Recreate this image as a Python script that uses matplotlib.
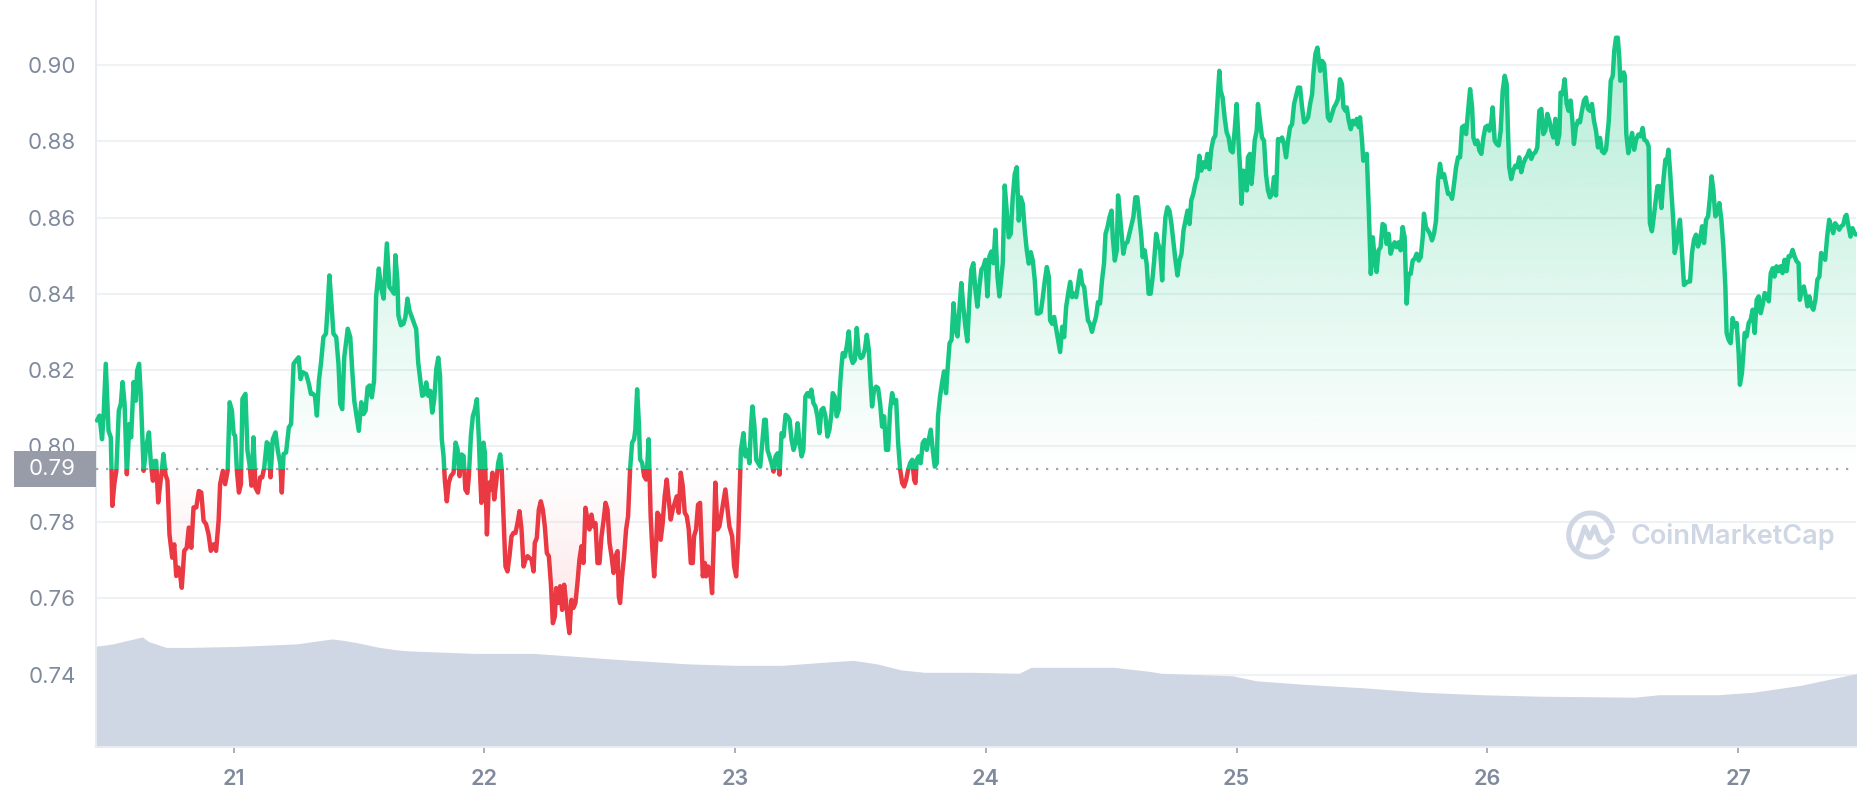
import numpy as np
import matplotlib
matplotlib.use('Agg')
import matplotlib.pyplot as plt
from matplotlib.colors import to_rgb
from matplotlib.patches import Rectangle, Arc
from matplotlib.path import Path
from matplotlib.lines import Line2D
from matplotlib.transforms import blended_transform_factory

plt.rcParams['font.family'] = ['Inter', 'DejaVu Sans']

# price (USD), (day of month, price)
seg_a = [(20.455, 0.8067), (20.465, 0.8080), (20.475, 0.8018), (20.481, 0.8075), (20.490, 0.8216), (20.501, 0.8040),
         (20.510, 0.8023), (20.516, 0.7843), (20.524, 0.7900), (20.532, 0.7935), (20.542, 0.8093), (20.550, 0.8111),
         (20.557, 0.8168), (20.565, 0.8111), (20.574, 0.7926), (20.584, 0.8058), (20.591, 0.8023), (20.601, 0.8168),
         (20.610, 0.8119), (20.615, 0.8198), (20.623, 0.8216), (20.630, 0.8128), (20.641, 0.7935), (20.651, 0.7997),
         (20.662, 0.8036), (20.670, 0.7953), (20.678, 0.7909), (20.685, 0.7961), (20.691, 0.7961), (20.699, 0.7852),
         (20.707, 0.7900), (20.712, 0.7926), (20.720, 0.7979), (20.728, 0.7926), (20.736, 0.7909), (20.744, 0.7768),
         (20.755, 0.7707), (20.763, 0.7742), (20.771, 0.7659), (20.780, 0.7681), (20.787, 0.7659), (20.793, 0.7628),
         (20.803, 0.7725), (20.813, 0.7733), (20.821, 0.7786), (20.831, 0.7733), (20.840, 0.7839), (20.851, 0.7839),
         (20.861, 0.7882), (20.871, 0.7878), (20.880, 0.7804), (20.890, 0.7795), (20.900, 0.7768), (20.909, 0.7725),
         (20.920, 0.7742), (20.930, 0.7725), (20.940, 0.7804), (20.946, 0.7900), (20.957, 0.7935), (20.966, 0.7900),
         (20.976, 0.7935), (20.984, 0.8115), (20.993, 0.8093), (21.000, 0.8032), (21.006, 0.8027), (21.013, 0.7935),
         (21.021, 0.7878), (21.029, 0.7900), (21.035, 0.8124), (21.047, 0.8137), (21.055, 0.7988), (21.063, 0.7953),
         (21.071, 0.7896), (21.079, 0.8023), (21.087, 0.7891), (21.097, 0.7878), (21.106, 0.7918), (21.114, 0.7918),
         (21.122, 0.7944), (21.132, 0.8010), (21.139, 0.8005), (21.147, 0.7918), (21.156, 0.8018), (21.167, 0.8036),
         (21.176, 0.7988), (21.186, 0.7953), (21.192, 0.7878), (21.199, 0.7979), (21.209, 0.7983), (21.220, 0.8049),
         (21.229, 0.8058), (21.239, 0.8216), (21.249, 0.8225), (21.259, 0.8233), (21.267, 0.8176), (21.275, 0.8194),
         (21.289, 0.8189), (21.300, 0.8163), (21.308, 0.8137), (21.316, 0.8137), (21.324, 0.8132), (21.332, 0.8080),
         (21.340, 0.8172), (21.348, 0.8216), (21.358, 0.8286), (21.368, 0.8295), (21.374, 0.8356), (21.382, 0.8448),
         (21.390, 0.8374), (21.398, 0.8295), (21.409, 0.8286), (21.418, 0.8216), (21.425, 0.8111), (21.433, 0.8097),
         (21.441, 0.8233), (21.449, 0.8277), (21.455, 0.8308), (21.465, 0.8286), (21.473, 0.8198), (21.481, 0.8119),
         (21.491, 0.8075), (21.499, 0.8040), (21.509, 0.8115), (21.518, 0.8084), (21.526, 0.8093), (21.534, 0.8154),
         (21.542, 0.8159), (21.551, 0.8128), (21.560, 0.8172), (21.568, 0.8391), (21.579, 0.8466), (21.587, 0.8418),
         (21.598, 0.8387), (21.606, 0.8479), (21.611, 0.8532), (21.621, 0.8418), (21.631, 0.8409), (21.640, 0.8400),
         (21.645, 0.8501), (21.653, 0.8435), (21.657, 0.8343), (21.667, 0.8317), (21.677, 0.8321), (21.685, 0.8339),
         (21.693, 0.8387), (21.701, 0.8356)]

seg_b = [(21.728, 0.8307), (21.736, 0.8219), (21.744, 0.8175), (21.752, 0.8132), (21.760, 0.8136), (21.768, 0.8167),
         (21.776, 0.8132), (21.784, 0.8145), (21.792, 0.8088), (21.800, 0.8123), (21.808, 0.8202), (21.816, 0.8232),
         (21.823, 0.8184), (21.830, 0.8018), (21.837, 0.7974), (21.842, 0.7912), (21.850, 0.7855), (21.858, 0.7904),
         (21.866, 0.7921), (21.877, 0.7930), (21.885, 0.8009), (21.893, 0.7991), (21.901, 0.7921), (21.909, 0.7978),
         (21.917, 0.7974), (21.924, 0.7886), (21.932, 0.7877), (21.938, 0.7921), (21.946, 0.8026), (21.954, 0.8079),
         (21.962, 0.8096), (21.970, 0.8123), (21.978, 0.8018), (21.983, 0.7921), (21.988, 0.7851), (21.996, 0.8009),
         (22.002, 0.7982), (22.010, 0.7768), (22.018, 0.7904), (22.025, 0.7886), (22.032, 0.7930), (22.039, 0.7860),
         (22.047, 0.7904), (22.055, 0.7956), (22.063, 0.7978), (22.069, 0.7939), (22.076, 0.7816), (22.084, 0.7684),
         (22.092, 0.7671), (22.100, 0.7711), (22.108, 0.7763), (22.116, 0.7772), (22.124, 0.7772), (22.132, 0.7798),
         (22.140, 0.7829), (22.148, 0.7781), (22.156, 0.7684), (22.164, 0.7702), (22.172, 0.7711), (22.180, 0.7706),
         (22.188, 0.7702), (22.196, 0.7671), (22.201, 0.7746), (22.209, 0.7759), (22.217, 0.7833), (22.225, 0.7855),
         (22.233, 0.7833), (22.241, 0.7789), (22.249, 0.7719), (22.257, 0.7711), (22.265, 0.7640), (22.273, 0.7535),
         (22.281, 0.7553), (22.286, 0.7627), (22.294, 0.7588), (22.302, 0.7632), (22.310, 0.7570), (22.318, 0.7636),
         (22.326, 0.7588), (22.334, 0.7535), (22.339, 0.7509), (22.347, 0.7596), (22.355, 0.7575), (22.363, 0.7588),
         (22.371, 0.7640), (22.379, 0.7702), (22.387, 0.7737), (22.395, 0.7693), (22.403, 0.7838), (22.411, 0.7807),
         (22.419, 0.7781), (22.427, 0.7820), (22.435, 0.7789), (22.443, 0.7798), (22.451, 0.7693), (22.459, 0.7693),
         (22.467, 0.7763), (22.475, 0.7803), (22.483, 0.7851), (22.491, 0.7833), (22.499, 0.7746), (22.507, 0.7711),
         (22.515, 0.7667), (22.523, 0.7711), (22.531, 0.7724), (22.536, 0.7605), (22.541, 0.7588), (22.549, 0.7658),
         (22.557, 0.7711), (22.565, 0.7781), (22.573, 0.7816), (22.581, 0.7939), (22.589, 0.8009), (22.597, 0.8018),
         (22.602, 0.8044), (22.609, 0.8149), (22.616, 0.8061), (22.621, 0.7965), (22.629, 0.7956), (22.637, 0.7921),
         (22.645, 0.7912), (22.650, 0.7956), (22.655, 0.8018), (22.658, 0.7939), (22.663, 0.7816), (22.669, 0.7737),
         (22.677, 0.7658), (22.685, 0.7746), (22.690, 0.7825), (22.698, 0.7816), (22.703, 0.7754), (22.711, 0.7798),
         (22.719, 0.7868), (22.727, 0.7912), (22.735, 0.7860), (22.743, 0.7807), (22.751, 0.7833), (22.759, 0.7851),
         (22.767, 0.7868), (22.775, 0.7825), (22.783, 0.7930), (22.791, 0.7895), (22.799, 0.7825), (22.807, 0.7816),
         (22.815, 0.7781), (22.823, 0.7693), (22.831, 0.7693), (22.836, 0.7763), (22.844, 0.7781), (22.852, 0.7846),
         (22.860, 0.7851), (22.865, 0.7763), (22.871, 0.7658), (22.879, 0.7693), (22.884, 0.7658), (22.892, 0.7684),
         (22.900, 0.7675), (22.908, 0.7614), (22.916, 0.7781), (22.921, 0.7904), (22.929, 0.7781), (22.937, 0.7789)]

seg_c = [(22.961, 0.7886), (22.977, 0.7789), (22.988, 0.7763), (22.996, 0.7684), (23.004, 0.7658), (23.012, 0.7754)]

seg_d = [(23.023, 0.7990), (23.033, 0.8034), (23.041, 0.7973), (23.049, 0.7990), (23.057, 0.7955), (23.063, 0.8051),
         (23.069, 0.8104), (23.077, 0.8051), (23.084, 0.7964), (23.092, 0.7955), (23.100, 0.7946), (23.108, 0.8008),
         (23.116, 0.8069), (23.122, 0.8069), (23.129, 0.7990), (23.137, 0.7973), (23.145, 0.7955), (23.153, 0.7933),
         (23.161, 0.7973), (23.169, 0.7981), (23.177, 0.7925), (23.185, 0.8034), (23.193, 0.8025), (23.201, 0.8082),
         (23.209, 0.8078), (23.217, 0.8069), (23.225, 0.8016), (23.233, 0.7990), (23.241, 0.8008), (23.249, 0.8060),
         (23.257, 0.8008), (23.265, 0.7973), (23.272, 0.7990), (23.280, 0.8130), (23.288, 0.8139), (23.296, 0.8130),
         (23.304, 0.8148), (23.312, 0.8113), (23.320, 0.8104), (23.328, 0.8078), (23.336, 0.8034), (23.344, 0.8095),
         (23.352, 0.8100), (23.360, 0.8078), (23.368, 0.8025), (23.376, 0.8043), (23.384, 0.8086), (23.389, 0.8139),
         (23.397, 0.8130), (23.405, 0.8078), (23.413, 0.8095), (23.419, 0.8165), (23.424, 0.8209), (23.429, 0.8244),
         (23.437, 0.8235), (23.445, 0.8261), (23.453, 0.8301), (23.461, 0.8235), (23.469, 0.8218), (23.477, 0.8226),
         (23.485, 0.8310), (23.493, 0.8244), (23.501, 0.8231), (23.509, 0.8235), (23.517, 0.8253), (23.525, 0.8292),
         (23.533, 0.8253), (23.541, 0.8156), (23.546, 0.8104), (23.554, 0.8148), (23.562, 0.8156), (23.570, 0.8152),
         (23.578, 0.8113), (23.586, 0.8051), (23.594, 0.8078), (23.602, 0.7990), (23.610, 0.7990), (23.618, 0.8095),
         (23.626, 0.8139), (23.634, 0.8113), (23.642, 0.8121), (23.650, 0.8008), (23.658, 0.7938), (23.666, 0.7903),
         (23.674, 0.7894), (23.682, 0.7911), (23.690, 0.7938), (23.698, 0.7955), (23.706, 0.7964), (23.714, 0.7911),
         (23.719, 0.7903), (23.724, 0.7964), (23.732, 0.7973), (23.740, 0.7955), (23.748, 0.8008), (23.756, 0.8016),
         (23.764, 0.7990), (23.772, 0.8016), (23.780, 0.8043), (23.788, 0.7990), (23.796, 0.7946), (23.804, 0.7955),
         (23.809, 0.8078), (23.817, 0.8130), (23.825, 0.8165), (23.833, 0.8196), (23.841, 0.8139), (23.847, 0.8200),
         (23.855, 0.8270), (23.863, 0.8279), (23.871, 0.8375), (23.879, 0.8305), (23.887, 0.8288), (23.894, 0.8358),
         (23.902, 0.8428), (23.910, 0.8366), (23.918, 0.8314), (23.926, 0.8275), (23.934, 0.8384), (23.942, 0.8463),
         (23.950, 0.8480), (23.958, 0.8410), (23.966, 0.8366), (23.974, 0.8419), (23.982, 0.8463), (23.990, 0.8471),
         (23.998, 0.8489), (24.006, 0.8393), (24.014, 0.8498), (24.022, 0.8511), (24.030, 0.8480), (24.038, 0.8568),
         (24.046, 0.8445), (24.054, 0.8393)]

seg_e = [(24.067, 0.8479), (24.075, 0.8684), (24.083, 0.8618), (24.091, 0.8548), (24.099, 0.8557), (24.107, 0.8653),
         (24.115, 0.8714), (24.123, 0.8732), (24.131, 0.8592), (24.139, 0.8653), (24.147, 0.8636), (24.155, 0.8566),
         (24.163, 0.8514), (24.171, 0.8479), (24.179, 0.8509), (24.187, 0.8487), (24.195, 0.8435), (24.203, 0.8348),
         (24.211, 0.8348), (24.219, 0.8352), (24.227, 0.8391), (24.235, 0.8435), (24.243, 0.8470), (24.251, 0.8444),
         (24.256, 0.8330), (24.264, 0.8321), (24.272, 0.8339), (24.280, 0.8308), (24.288, 0.8278), (24.296, 0.8247),
         (24.304, 0.8313), (24.312, 0.8286), (24.320, 0.8365), (24.328, 0.8400), (24.336, 0.8431), (24.344, 0.8391),
         (24.352, 0.8400), (24.360, 0.8391), (24.368, 0.8426), (24.376, 0.8461), (24.384, 0.8426), (24.392, 0.8417),
         (24.399, 0.8374), (24.407, 0.8330), (24.415, 0.8321), (24.423, 0.8300), (24.431, 0.8321), (24.439, 0.8339),
         (24.447, 0.8378), (24.455, 0.8374), (24.463, 0.8435), (24.471, 0.8479), (24.477, 0.8557), (24.485, 0.8575),
         (24.493, 0.8601), (24.501, 0.8618), (24.506, 0.8548), (24.514, 0.8487), (24.522, 0.8514), (24.527, 0.8658),
         (24.532, 0.8627), (24.540, 0.8566), (24.548, 0.8505), (24.556, 0.8531), (24.564, 0.8535), (24.572, 0.8557),
         (24.580, 0.8579), (24.588, 0.8601), (24.596, 0.8653), (24.604, 0.8653), (24.612, 0.8601), (24.620, 0.8548),
         (24.625, 0.8496), (24.633, 0.8514), (24.641, 0.8479), (24.649, 0.8400), (24.657, 0.8400), (24.665, 0.8444),
         (24.671, 0.8487), (24.679, 0.8557), (24.687, 0.8531), (24.695, 0.8514), (24.703, 0.8435), (24.708, 0.8522),
         (24.716, 0.8601), (24.724, 0.8627), (24.732, 0.8618), (24.740, 0.8583), (24.748, 0.8535), (24.756, 0.8487),
         (24.764, 0.8448), (24.772, 0.8487), (24.780, 0.8505), (24.788, 0.8566), (24.796, 0.8592), (24.804, 0.8618),
         (24.812, 0.8583), (24.819, 0.8645), (24.827, 0.8662), (24.835, 0.8688), (24.843, 0.8706), (24.851, 0.8762),
         (24.859, 0.8723), (24.867, 0.8745), (24.875, 0.8732), (24.883, 0.8767), (24.891, 0.8727), (24.899, 0.8780),
         (24.907, 0.8806), (24.915, 0.8815), (24.923, 0.8902), (24.931, 0.8985), (24.936, 0.8933), (24.944, 0.8915),
         (24.952, 0.8863), (24.960, 0.8824), (24.968, 0.8810), (24.976, 0.8776), (24.984, 0.8771), (24.992, 0.8828),
         (25.000, 0.8898), (25.008, 0.8793), (25.014, 0.8723), (25.019, 0.8636), (25.027, 0.8723), (25.035, 0.8697),
         (25.040, 0.8671), (25.045, 0.8758), (25.053, 0.8767), (25.059, 0.8688), (25.064, 0.8723), (25.072, 0.8802),
         (25.080, 0.8828), (25.085, 0.8898), (25.093, 0.8854), (25.101, 0.8810), (25.109, 0.8802), (25.117, 0.8714),
         (25.125, 0.8671), (25.133, 0.8653), (25.141, 0.8662), (25.149, 0.8706), (25.157, 0.8658), (25.165, 0.8806),
         (25.173, 0.8802), (25.181, 0.8810), (25.189, 0.8793), (25.197, 0.8758), (25.205, 0.8802), (25.213, 0.8837),
         (25.221, 0.8845), (25.229, 0.8898), (25.237, 0.8920), (25.245, 0.8941), (25.253, 0.8941), (25.261, 0.8889),
         (25.269, 0.8850), (25.277, 0.8854), (25.285, 0.8863), (25.293, 0.8898), (25.301, 0.8924), (25.306, 0.8976),
         (25.314, 0.9029), (25.322, 0.9046)]

seg_f = [(25.333, 0.8985), (25.341, 0.9011), (25.349, 0.9003), (25.356, 0.8941), (25.364, 0.8863), (25.372, 0.8854),
         (25.380, 0.8872), (25.388, 0.8889), (25.396, 0.8898), (25.404, 0.8911), (25.412, 0.8963), (25.420, 0.8950),
         (25.426, 0.8889), (25.434, 0.8880), (25.439, 0.8889), (25.447, 0.8854), (25.455, 0.8832), (25.463, 0.8854),
         (25.471, 0.8845), (25.479, 0.8859), (25.487, 0.8837), (25.492, 0.8863), (25.500, 0.8802), (25.505, 0.8749),
         (25.513, 0.8758), (25.519, 0.8767), (25.527, 0.8618), (25.535, 0.8452), (25.543, 0.8548), (25.551, 0.8487),
         (25.558, 0.8457), (25.566, 0.8514), (25.574, 0.8522), (25.582, 0.8583), (25.590, 0.8579), (25.598, 0.8531),
         (25.606, 0.8557), (25.614, 0.8505), (25.622, 0.8522), (25.630, 0.8535), (25.638, 0.8522), (25.646, 0.8535),
         (25.654, 0.8514), (25.662, 0.8575), (25.670, 0.8548), (25.678, 0.8374), (25.686, 0.8452), (25.694, 0.8452),
         (25.702, 0.8487), (25.710, 0.8492), (25.718, 0.8505), (25.726, 0.8487), (25.734, 0.8496), (25.742, 0.8548),
         (25.747, 0.8610), (25.755, 0.8575), (25.763, 0.8566), (25.771, 0.8557), (25.779, 0.8540), (25.787, 0.8557),
         (25.795, 0.8592), (25.803, 0.8697), (25.811, 0.8741), (25.819, 0.8706), (25.827, 0.8714), (25.835, 0.8688),
         (25.843, 0.8662), (25.851, 0.8662), (25.859, 0.8649), (25.867, 0.8688), (25.875, 0.8732), (25.883, 0.8758),
         (25.891, 0.8758), (25.899, 0.8837), (25.907, 0.8841), (25.915, 0.8819), (25.923, 0.8880), (25.931, 0.8937),
         (25.939, 0.8889), (25.944, 0.8810), (25.952, 0.8793), (25.960, 0.8802), (25.968, 0.8776), (25.976, 0.8767),
         (25.984, 0.8810), (25.992, 0.8837), (26.000, 0.8841), (26.008, 0.8828), (26.016, 0.8854), (26.021, 0.8889),
         (26.029, 0.8802), (26.037, 0.8793), (26.045, 0.8789), (26.053, 0.8828), (26.061, 0.8933), (26.069, 0.8972),
         (26.077, 0.8950), (26.082, 0.8828), (26.087, 0.8732), (26.095, 0.8701), (26.103, 0.8723), (26.111, 0.8736),
         (26.119, 0.8732), (26.127, 0.8758), (26.135, 0.8719), (26.143, 0.8741), (26.151, 0.8754), (26.159, 0.8762),
         (26.167, 0.8776), (26.175, 0.8754), (26.183, 0.8767), (26.191, 0.8771), (26.199, 0.8784), (26.207, 0.8880),
         (26.215, 0.8885), (26.223, 0.8819), (26.231, 0.8828), (26.239, 0.8872), (26.247, 0.8854), (26.255, 0.8828),
         (26.263, 0.8810), (26.271, 0.8859), (26.279, 0.8793), (26.287, 0.8819), (26.292, 0.8928), (26.300, 0.8924),
         (26.308, 0.8963), (26.316, 0.8898), (26.324, 0.8880), (26.332, 0.8907), (26.340, 0.8845), (26.345, 0.8793),
         (26.353, 0.8837), (26.361, 0.8854), (26.369, 0.8850), (26.377, 0.8880), (26.385, 0.8907), (26.393, 0.8915),
         (26.401, 0.8885), (26.409, 0.8880), (26.417, 0.8898), (26.425, 0.8854), (26.433, 0.8828), (26.441, 0.8784)]

seg_g = [(26.449, 0.8809), (26.457, 0.8774), (26.465, 0.8769), (26.473, 0.8778), (26.484, 0.8854), (26.492, 0.8959),
         (26.500, 0.8972), (26.506, 0.9038), (26.513, 0.9072), (26.520, 0.9072), (26.526, 0.9020), (26.530, 0.8959),
         (26.537, 0.8963), (26.544, 0.8981), (26.548, 0.8972), (26.554, 0.8819), (26.562, 0.8769), (26.569, 0.8796),
         (26.577, 0.8822), (26.585, 0.8778), (26.593, 0.8804), (26.602, 0.8818), (26.611, 0.8813), (26.619, 0.8835),
         (26.626, 0.8804), (26.635, 0.8800), (26.643, 0.8787), (26.648, 0.8585), (26.656, 0.8564), (26.662, 0.8594),
         (26.670, 0.8638), (26.678, 0.8682), (26.686, 0.8682), (26.694, 0.8625), (26.702, 0.8699), (26.710, 0.8752),
         (26.715, 0.8743), (26.722, 0.8778), (26.728, 0.8726), (26.736, 0.8647), (26.741, 0.8594), (26.747, 0.8507),
         (26.755, 0.8533), (26.763, 0.8577), (26.768, 0.8594), (26.776, 0.8507), (26.784, 0.8423), (26.792, 0.8428),
         (26.800, 0.8432), (26.808, 0.8432), (26.816, 0.8507), (26.824, 0.8542), (26.832, 0.8555), (26.840, 0.8524),
         (26.848, 0.8542), (26.856, 0.8577), (26.864, 0.8533), (26.872, 0.8594), (26.880, 0.8603), (26.888, 0.8656),
         (26.894, 0.8708), (26.901, 0.8673), (26.909, 0.8603), (26.917, 0.8612), (26.925, 0.8638), (26.933, 0.8594),
         (26.941, 0.8524), (26.949, 0.8419), (26.954, 0.8297), (26.962, 0.8279), (26.970, 0.8270), (26.978, 0.8336),
         (26.986, 0.8314), (26.994, 0.8323), (27.002, 0.8244), (27.007, 0.8161), (27.015, 0.8191), (27.021, 0.8244),
         (27.026, 0.8297), (27.034, 0.8288), (27.042, 0.8323), (27.050, 0.8332), (27.058, 0.8358), (27.066, 0.8297),
         (27.074, 0.8384), (27.082, 0.8393), (27.090, 0.8349), (27.098, 0.8371), (27.106, 0.8402), (27.114, 0.8393),
         (27.122, 0.8380), (27.130, 0.8454), (27.138, 0.8467), (27.145, 0.8445), (27.153, 0.8472), (27.161, 0.8459),
         (27.169, 0.8472), (27.177, 0.8454), (27.185, 0.8489), (27.193, 0.8459), (27.201, 0.8498), (27.209, 0.8498),
         (27.217, 0.8515), (27.225, 0.8498), (27.233, 0.8485), (27.241, 0.8480), (27.246, 0.8384), (27.254, 0.8410),
         (27.262, 0.8419), (27.270, 0.8393), (27.276, 0.8367), (27.284, 0.8393), (27.292, 0.8367), (27.300, 0.8358),
         (27.308, 0.8384), (27.316, 0.8437), (27.324, 0.8445), (27.331, 0.8507), (27.339, 0.8498), (27.347, 0.8489),
         (27.355, 0.8550), (27.363, 0.8594), (27.371, 0.8577), (27.379, 0.8559), (27.387, 0.8585), (27.395, 0.8577),
         (27.403, 0.8568), (27.411, 0.8577), (27.419, 0.8581), (27.427, 0.8603), (27.432, 0.8607), (27.440, 0.8577),
         (27.448, 0.8550), (27.456, 0.8572), (27.464, 0.8559), (27.470, 0.8555)]

ref_price = 0.7941
ref_label = '0.79'

# 24h volume (bn USD), drawn in the lower band
vol_days = [20.447, 20.518, 20.636, 20.660, 20.731, 20.825, 21.014, 21.250, 21.392, 21.439, 21.487, 21.581,
            21.652, 21.699, 21.959, 22.195, 22.337, 22.526, 22.809, 22.998, 23.187, 23.376, 23.471, 23.565,
            23.660, 23.754, 23.943, 24.132, 24.180, 24.321, 24.510, 24.652, 24.699, 24.983, 25.077, 25.266,
            25.502, 25.739, 25.975, 26.211, 26.589, 26.684, 26.920, 27.062, 27.251, 27.477]
vol_bn = [2.02, 2.07, 2.21, 2.12, 2.00, 2.00, 2.02, 2.07, 2.17, 2.14, 2.10, 2.00,
          1.95, 1.93, 1.88, 1.88, 1.83, 1.76, 1.67, 1.64, 1.64, 1.71, 1.74, 1.67,
          1.55, 1.50, 1.50, 1.48, 1.60, 1.60, 1.60, 1.52, 1.48, 1.43, 1.33, 1.26,
          1.19, 1.10, 1.05, 1.02, 1.00, 1.05, 1.05, 1.10, 1.24, 1.48]
vol_axis_max = 15.0

y_ticks = [0.74, 0.76, 0.78, 0.80, 0.82, 0.84, 0.86, 0.88, 0.90]
x_ticks = [21, 22, 23, 24, 25, 26, 27]

GREEN = '#16c784'
RED = '#ea3943'
TXT = '#808a9d'
GRID = '#eff2f5'
VOL = '#cfd6e4'

W, H = 1858, 800
fig = plt.figure(figsize=(W / 100, H / 100), dpi=100)
ax = fig.add_axes([96 / W, 1 - 747 / H, 1760 / W, 747 / H])

pts = seg_a + seg_b + seg_c + seg_d + seg_e + seg_f + seg_g
t = np.array([d for d, _ in pts])
p = np.array([v for _, v in pts])

xmin, xmax = 20.451, 27.470
ymin, ymax = 0.7210, 0.9171

# volume band
vtrans = blended_transform_factory(ax.transData, ax.transAxes)
ax.fill_between(vol_days, 0, np.array(vol_bn) / vol_axis_max, transform=vtrans,
                color=VOL, lw=0, zorder=1)

# gradient areas above / below the reference price
up = ax.fill_between(t, ref_price, np.maximum(p, ref_price), facecolor='none', lw=0)
dn = ax.fill_between(t, np.minimum(p, ref_price), ref_price, facecolor='none', lw=0)

g_img = np.zeros((256, 1, 4))
g_img[..., :3] = to_rgb(GREEN)
g_img[:, 0, 3] = np.linspace(0.0, 0.32, 256)
im_up = ax.imshow(g_img, extent=[xmin, xmax, ref_price, p.max()], origin='lower',
                  aspect='auto', zorder=2, interpolation='bilinear')
im_up.set_clip_path(Path.make_compound_path(*up.get_paths()), ax.transData)

r_img = np.zeros((256, 1, 4))
r_img[..., :3] = to_rgb(RED)
r_img[:, 0, 3] = np.linspace(0.14, 0.0, 256)
im_dn = ax.imshow(r_img, extent=[xmin, xmax, p.min(), ref_price], origin='lower',
                  aspect='auto', zorder=2, interpolation='bilinear')
im_dn.set_clip_path(Path.make_compound_path(*dn.get_paths()), ax.transData)

ax.axhline(ref_price, color='#9ea4b0', lw=1.6, ls=(0, (1, 3.5)), zorder=3)

# price line, green above / red below the reference
clip_up = Rectangle((xmin - 1, ref_price), xmax - xmin + 2, 1, transform=ax.transData)
clip_dn = Rectangle((xmin - 1, ref_price - 1), xmax - xmin + 2, 1, transform=ax.transData)
l_up, = ax.plot(t, p, color=GREEN, lw=3.2, zorder=4, solid_joinstyle='round', solid_capstyle='round')
l_up.set_clip_path(clip_up)
l_dn, = ax.plot(t, p, color=RED, lw=3.2, zorder=4, solid_joinstyle='round', solid_capstyle='round')
l_dn.set_clip_path(clip_dn)

ax.set_xlim(xmin, xmax)
ax.set_ylim(ymin, ymax)

ax.set_yticks(y_ticks)
ax.set_yticklabels([f'{v:.2f}' for v in y_ticks])
ax.set_xticks(x_ticks)
ax.set_xticklabels([str(v) for v in x_ticks])
ax.tick_params(axis='y', length=0, pad=14.5, labelsize=16, labelcolor=TXT)
ax.tick_params(axis='x', length=4, width=1.4, color='#a5afc0', pad=12, labelsize=15.5, labelcolor=TXT)
for lab in ax.get_xticklabels():
    lab.set_fontweight('semibold')
ax.grid(axis='y', color=GRID, lw=1.5)
ax.set_axisbelow(True)
for s in ['top', 'right']:
    ax.spines[s].set_visible(False)
for s in ['left', 'bottom']:
    ax.spines[s].set_color('#e8ecf1')
    ax.spines[s].set_linewidth(1.5)

# reference price badge on the y axis
yfig = fig.transFigure.inverted().transform(ax.transData.transform((xmin, ref_price)))[1]
fig.add_artist(Rectangle((14 / W, yfig - 18 / H), 82 / W, 36 / H, transform=fig.transFigure,
                         facecolor='#979ca8', edgecolor='none', zorder=5))
fig.text(52 / W, yfig, ref_label, color='white', ha='center', va='center', fontsize=16, zorder=6)

# watermark
cx, cy = 1590.7 / W, 1 - 535 / H
fig.add_artist(Arc((cx, cy), 44 / W, 44 / H, theta1=10, theta2=300, transform=fig.transFigure,
                   color=VOL, lw=3.6, zorder=5))
mx = [-13, -6, -1, 4, 9, 14, 21]
my = [-13, 8, -3, 8, -5, -8, -2]
fig.add_artist(Line2D([cx + v / W for v in mx], [cy + v / H for v in my], transform=fig.transFigure,
                      color=VOL, lw=3.6, solid_joinstyle='round', solid_capstyle='round', zorder=5))
fig.text(1631 / W, 1 - 537 / H, 'CoinMarketCap', fontsize=19.5, color=VOL, fontweight='semibold',
         ha='left', va='center', zorder=5)

fig.savefig('out.png', dpi=100)
